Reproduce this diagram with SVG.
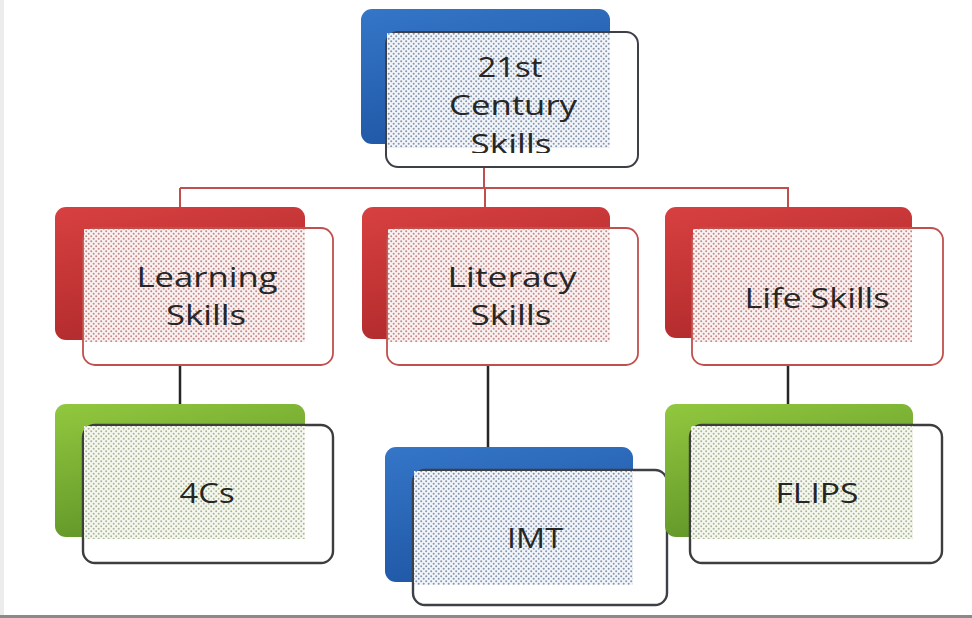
<svg xmlns="http://www.w3.org/2000/svg" width="972" height="618" viewBox="0 0 972 618">
  <style>
    .lbl { font-family: "Open Sans", "Noto Sans", "Liberation Sans", sans-serif; font-size: 27px; fill: #262626; text-anchor: middle; }
    .frontBlue { fill: #ffffff; stroke: #3d4047; stroke-width: 2; }
    .frontRed { fill: #ffffff; stroke: #c0504d; stroke-width: 1.8; }
    .frontGreen { fill: #ffffff; stroke: #3d3d3d; stroke-width: 2.4; }
    .linkRed { stroke: #c0504d; stroke-width: 2; fill: none; }
    .linkDark { stroke: #262626; stroke-width: 2.5; fill: none; }
  </style>
  <defs>
    <linearGradient id="gBlue" x1="0" y1="0" x2="0.4" y2="1">
      <stop offset="0" stop-color="#3576c8"/>
      <stop offset="1" stop-color="#1e56a4"/>
    </linearGradient>
    <linearGradient id="gRed" x1="0" y1="0" x2="0.4" y2="1">
      <stop offset="0" stop-color="#d84040"/>
      <stop offset="1" stop-color="#b02a2c"/>
    </linearGradient>
    <linearGradient id="gGreen" x1="0" y1="0" x2="0.4" y2="1">
      <stop offset="0" stop-color="#92c83e"/>
      <stop offset="1" stop-color="#5f9428"/>
    </linearGradient>
    <pattern id="dotBlue" width="5" height="5" patternUnits="userSpaceOnUse">
      <rect width="5" height="5" fill="#f2f5f9"/>
      <circle cx="1.2" cy="1.2" r="1" fill="#8595ad"/>
      <circle cx="3.7" cy="3.7" r="1" fill="#8595ad"/>
    </pattern>
    <pattern id="dotRed" width="5" height="5" patternUnits="userSpaceOnUse">
      <rect width="5" height="5" fill="#faf1f1"/>
      <circle cx="1.2" cy="1.2" r="1" fill="#c28a8a"/>
      <circle cx="3.7" cy="3.7" r="1" fill="#c28a8a"/>
    </pattern>
    <pattern id="dotGreen" width="5" height="5" patternUnits="userSpaceOnUse">
      <rect width="5" height="5" fill="#f6f8ef"/>
      <circle cx="1.2" cy="1.2" r="1" fill="#a9b59a"/>
      <circle cx="3.7" cy="3.7" r="1" fill="#a9b59a"/>
    </pattern>
    <clipPath id="rootClip">
      <rect x="380" y="20" width="260" height="133"/>
    </clipPath>
  </defs>

  <!-- page background and frame edges -->
  <rect width="972" height="618" fill="#ffffff"/>
  <rect x="0" y="0" width="4" height="618" fill="#ececec"/>
  <rect x="0" y="615" width="972" height="3" fill="#8a8a8a"/>

  <!-- connectors -->
  <g id="connectors">
    <path class="linkRed" d="M484 167 V188 M180 188 H789 M180 188 V207 M485 188 V207 M788 188 V207"/>
    <path class="linkDark" d="M180 365 V404 M488 365 V447 M788 365 V404"/>
  </g>

  <!-- root -->
  <g id="node-root">
    <rect x="361" y="9" width="249" height="135" rx="11" fill="url(#gBlue)"/>
    <rect class="frontBlue" x="386" y="32" width="252" height="135" rx="12"/>
    <rect x="387" y="33" width="223" height="115" fill="url(#dotBlue)"/>
    <g clip-path="url(#rootClip)">
      <text class="lbl" x="510" y="77" textLength="65" lengthAdjust="spacingAndGlyphs">21st</text>
      <text class="lbl" x="513" y="115" textLength="128" lengthAdjust="spacingAndGlyphs">Century</text>
      <text class="lbl" x="511" y="154" textLength="81" lengthAdjust="spacingAndGlyphs">Skills</text>
    </g>
  </g>

  <!-- second row -->
  <g id="node-learning">
    <rect x="55" y="207" width="250" height="133" rx="11" fill="url(#gRed)"/>
    <rect class="frontRed" x="83" y="228" width="250" height="137" rx="12"/>
    <rect x="84" y="229" width="221" height="113" fill="url(#dotRed)"/>
    <text class="lbl" x="207" y="287" textLength="141" lengthAdjust="spacingAndGlyphs">Learning</text>
    <text class="lbl" x="206" y="325" textLength="80" lengthAdjust="spacingAndGlyphs">Skills</text>
  </g>

  <g id="node-literacy">
    <rect x="362" y="207" width="248" height="132" rx="11" fill="url(#gRed)"/>
    <rect class="frontRed" x="387" y="228" width="251" height="137" rx="12"/>
    <rect x="388" y="229" width="222" height="113" fill="url(#dotRed)"/>
    <text class="lbl" x="512" y="287" textLength="129" lengthAdjust="spacingAndGlyphs">Literacy</text>
    <text class="lbl" x="511" y="325" textLength="81" lengthAdjust="spacingAndGlyphs">Skills</text>
  </g>

  <g id="node-life">
    <rect x="665" y="207" width="247" height="131" rx="11" fill="url(#gRed)"/>
    <rect class="frontRed" x="692" y="228" width="251" height="137" rx="12"/>
    <rect x="693" y="229" width="219" height="113" fill="url(#dotRed)"/>
    <text class="lbl" x="817" y="308" textLength="145" lengthAdjust="spacingAndGlyphs">Life Skills</text>
  </g>

  <!-- third row -->
  <g id="node-4cs">
    <rect x="55" y="404" width="250" height="133" rx="11" fill="url(#gGreen)"/>
    <rect class="frontGreen" x="83" y="425" width="250" height="138" rx="12"/>
    <rect x="84" y="426" width="221" height="113" fill="url(#dotGreen)"/>
    <text class="lbl" x="207" y="503" textLength="55" lengthAdjust="spacingAndGlyphs">4Cs</text>
  </g>

  <g id="node-imt">
    <rect x="385" y="447" width="248" height="135" rx="11" fill="url(#gBlue)"/>
    <rect class="frontBlue" x="413" y="470" width="254" height="135" rx="12" style="stroke-width:2.4"/>
    <rect x="414" y="471" width="219" height="114" fill="url(#dotBlue)"/>
    <text class="lbl" x="535" y="548" textLength="56" lengthAdjust="spacingAndGlyphs">IMT</text>
  </g>

  <g id="node-flips">
    <rect x="665" y="404" width="248" height="133" rx="11" fill="url(#gGreen)"/>
    <rect class="frontGreen" x="690" y="425" width="252" height="138" rx="12"/>
    <rect x="691" y="426" width="222" height="113" fill="url(#dotGreen)"/>
    <text class="lbl" x="817" y="503" textLength="83" lengthAdjust="spacingAndGlyphs">FLIPS</text>
  </g>
</svg>
